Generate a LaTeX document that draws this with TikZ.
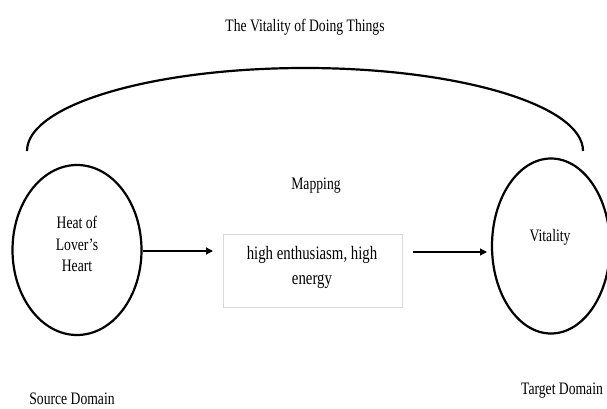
\documentclass[tikz,border=0pt]{standalone}
\usepackage{fontspec}
\setmainfont{Liberation Serif}[FakeStretch=0.78]
\usetikzlibrary{shapes.geometric,arrows.meta}
\begin{document}
\begin{tikzpicture}[x=1pt,y=-1pt,
  domainshape/.style={draw,ellipse,line width=2.2pt,inner sep=0pt},
  txt/.style={font=\fontsize{17.5}{21.5}\selectfont,align=center,inner sep=0pt},
  conn/.style={line width=1.3pt,-{Triangle[length=7pt,width=7pt]}},
  mapbox/.style={draw=black!15,line width=0.6pt,minimum width=179pt,minimum height=73pt,inner sep=0pt}]
\useasboundingbox (0,0) rectangle (607,409);
\node[domainshape,minimum width=129pt,minimum height=170pt] (src) at (77,250) {};
\node[domainshape,minimum width=118pt,minimum height=175pt] (tgt) at (551,246) {};
\node[txt] (srctxt) at (77,244) {Heat of\\Lover’s\\Heart};
\node[txt] (tgttxt) at (550,237) {Vitality};
\node[mapbox] (box) at (312.5,270.5) {};
\node[txt,font=\fontsize{19}{25}\selectfont] (boxtxt) at (312,267) {high enthusiasm, high\\energy};
\node[txt] (title) at (305,27) {The Vitality of Doing Things};
\node[txt] (map) at (316,186) {Mapping};
\node[txt] (srcd) at (72,399) {Source Domain};
\node[txt] (tgtd) at (562,391) {Target Domain};
\coordinate (a1s) at (src.east |- 0,251);
\coordinate (a1e) at (213,251);
\coordinate (a2s) at (413,252);
\coordinate (a2e) at (487,252);
\draw[conn] (a1s) -- (a1e);
\draw[conn] (a2s) -- (a2e);
\coordinate (arcL) at (27,151);
\draw[line width=2.2pt] (arcL) arc[start angle=180,end angle=0,x radius=278,y radius=-83];
\end{tikzpicture}
\end{document}
